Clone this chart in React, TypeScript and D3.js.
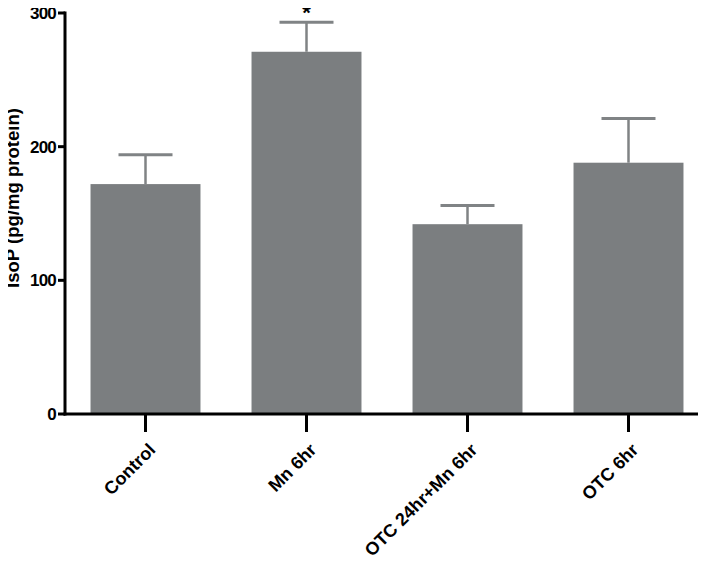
import * as d3 from 'd3';
import { useEffect, useRef } from 'react';

const groups = ['Control', 'Mn 6hr', 'OTC 24hr+Mn 6hr', 'OTC 6hr'];
const means = [172, 271, 142, 188];
const sems = [22, 22, 14, 33];
const marks = ['', '*', '', ''];
const yTicks = [0, 100, 200, 300];

export default function App() {
  const ref = useRef<SVGSVGElement>(null);

  useEffect(() => {
    const width = 714;
    const height = 565;
    const svg = d3.select(ref.current);
    svg.selectAll('*').remove();
    svg.attr('width', width).attr('height', height);

    const font = '"Liberation Sans", Arial, sans-serif';

    const x = d3
      .scaleBand<string>()
      .domain(groups)
      .range([65, 709])
      .paddingInner(0.317)
      .paddingOuter(0.1585);

    const y = d3.scaleLinear().domain([0, 300]).range([414, 13]);

    /* ---------- BARS ---------- */
    svg
      .selectAll('.bar')
      .data(groups)
      .enter()
      .append('rect')
      .attr('x', d => x(d)!)
      .attr('y', (d, i) => y(means[i]))
      .attr('width', x.bandwidth())
      .attr('height', (d, i) => y(0) - y(means[i]))
      .attr('fill', '#7b7e80');

    /* ---------- ERROR BARS ---------- */
    const cap = 27;
    groups.forEach((g, i) => {
      const cx = x(g)! + x.bandwidth() / 2;
      const top = y(means[i] + sems[i]);
      svg
        .append('line')
        .attr('x1', cx)
        .attr('x2', cx)
        .attr('y1', y(means[i]))
        .attr('y2', top)
        .attr('stroke', '#808385')
        .attr('stroke-width', 2.5);
      svg
        .append('line')
        .attr('x1', cx - cap)
        .attr('x2', cx + cap)
        .attr('y1', top)
        .attr('y2', top)
        .attr('stroke', '#808385')
        .attr('stroke-width', 3);
      if (marks[i]) {
        svg
          .append('text')
          .attr('x', cx)
          .attr('y', top - 2)
          .attr('text-anchor', 'middle')
          .style('font-family', font)
          .style('font-size', '22px')
          .style('font-weight', 700)
          .text(marks[i]);
      }
    });

    /* ---------- AXES ---------- */
    svg
      .append('line')
      .attr('x1', 65)
      .attr('x2', 65)
      .attr('y1', y(300) - 1.5)
      .attr('y2', y(0) + 1.5)
      .attr('stroke', '#000')
      .attr('stroke-width', 3);
    svg
      .append('line')
      .attr('x1', 63.5)
      .attr('x2', 698)
      .attr('y1', y(0))
      .attr('y2', y(0))
      .attr('stroke', '#000')
      .attr('stroke-width', 3);

    svg
      .selectAll('.ytick')
      .data(yTicks)
      .enter()
      .append('line')
      .attr('x1', 58)
      .attr('x2', 65)
      .attr('y1', d => y(d))
      .attr('y2', d => y(d))
      .attr('stroke', '#000')
      .attr('stroke-width', 3);

    svg
      .selectAll('.ylabel')
      .data(yTicks)
      .enter()
      .append('text')
      .attr('x', 56)
      .attr('y', d => y(d) + 6)
      .attr('text-anchor', 'end')
      .style('font-family', font)
      .style('font-size', '17px')
      .style('font-weight', 700)
      .style('letter-spacing', '-0.8px')
      .text(d => d);

    svg
      .selectAll('.xtick')
      .data(groups)
      .enter()
      .append('line')
      .attr('x1', d => x(d)! + x.bandwidth() / 2)
      .attr('x2', d => x(d)! + x.bandwidth() / 2)
      .attr('y1', y(0))
      .attr('y2', y(0) + 18)
      .attr('stroke', '#000')
      .attr('stroke-width', 3);

    svg
      .selectAll('.xlabel')
      .data(groups)
      .enter()
      .append('text')
      .attr('transform', d => {
        const cx = x(d)! + x.bandwidth() / 2;
        return `translate(${cx + 11},${y(0) + 37}) rotate(-45)`;
      })
      .attr('text-anchor', 'end')
      .style('font-family', font)
      .style('font-size', '18px')
      .style('font-weight', 700)
      .text(d => d);

    svg
      .append('text')
      .attr('transform', `translate(19,198) rotate(-90)`)
      .attr('text-anchor', 'middle')
      .attr('textLength', 180)
      .attr('lengthAdjust', 'spacingAndGlyphs')
      .style('font-family', font)
      .style('font-size', '19px')
      .style('font-weight', 700)
      .text('IsoP (pg/mg protein)');
  }, []);

  return <svg ref={ref} style={{ display: 'block', margin: '-8px' }} />;
}
